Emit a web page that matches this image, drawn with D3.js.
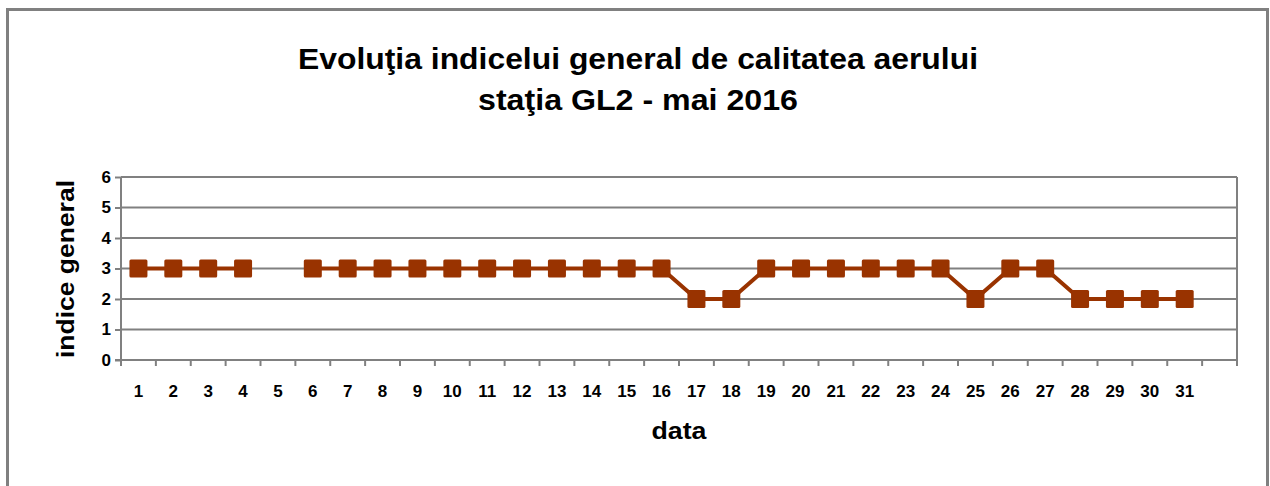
<!DOCTYPE html>
<html>
<head>
<meta charset="utf-8">
<script src="https://cdn.jsdelivr.net/npm/d3@7"></script>
<style>
  body { margin: 0; background: #fff; }
  svg { display: block; font-family: "Liberation Sans", Arial, sans-serif; }
</style>
</head>
<body>
<svg id="chart" width="1270" height="486"></svg>
<script>
// days of May 2016 (one empty slot at the end, as in the original)
const days = ["1","2","3","4","5","6","7","8","9","10","11","12","13","14","15","16",
  "17","18","19","20","21","22","23","24","25","26","27","28","29","30","31",""];
// general index per day, null = no data
const indexValues = [3,3,3,3,null,3,3,3,3,3,3,3,3,3,3,3,
  2,2,3,3,3,3,3,3,2,3,3,2,2,2,2];
const yTicks = [0,1,2,3,4,5,6];

const svg = d3.select("#chart");
const margin = {left: 121, top: 177, right: 1237, bottom: 360};

// outer frame
svg.append("rect")
  .attr("x", 7.5).attr("y", 9.5)
  .attr("width", 1260).attr("height", 500)
  .attr("fill", "none").attr("stroke", "#808080").attr("stroke-width", 3);

// title (text in the original is rendered wider, so stretch to fit)
svg.append("text")
  .attr("x", 638).attr("y", 69)
  .attr("text-anchor", "middle")
  .attr("font-size", 29).attr("font-weight", "bold")
  .attr("textLength", 680).attr("lengthAdjust", "spacingAndGlyphs")
  .text("Evoluţia indicelui general de calitatea aerului");
svg.append("text")
  .attr("x", 638).attr("y", 110)
  .attr("text-anchor", "middle")
  .attr("font-size", 29).attr("font-weight", "bold")
  .attr("textLength", 320).attr("lengthAdjust", "spacingAndGlyphs")
  .text("staţia GL2 - mai 2016");

const x = d3.scaleBand()
  .domain(days.map((d, i) => i))
  .range([margin.left, margin.right]);

const y = d3.scaleLinear()
  .domain([0, 6])
  .range([margin.bottom, margin.top]);

// gridlines
svg.append("g")
  .selectAll("line")
  .data(yTicks.slice(1))
  .enter()
  .append("line")
  .attr("x1", margin.left).attr("x2", margin.right)
  .attr("y1", d => y(d)).attr("y2", d => y(d))
  .attr("stroke", "#808080").attr("stroke-width", 2);

// right border of plot
svg.append("line")
  .attr("x1", margin.right).attr("x2", margin.right)
  .attr("y1", margin.top).attr("y2", margin.bottom)
  .attr("stroke", "#808080").attr("stroke-width", 2);

// y axis
const yAxis = svg.append("g")
  .attr("transform", "translate(" + margin.left + ",0)")
  .call(d3.axisLeft(y).tickValues(yTicks).tickSize(6).tickPadding(4).tickFormat(d3.format("d")));
yAxis.selectAll("line, path").attr("stroke", "#808080").attr("stroke-width", 2);
yAxis.select("path").attr("d", "M0," + margin.top + "V" + margin.bottom);
yAxis.selectAll("text")
  .attr("font-size", 17).attr("font-weight", "bold").attr("fill", "#000")
  .attr("font-family", "Liberation Sans, Arial, sans-serif");

// x axis: tick marks on band boundaries
const xAxisG = svg.append("g");
xAxisG.append("line")
  .attr("x1", margin.left - 6).attr("x2", margin.right)
  .attr("y1", margin.bottom).attr("y2", margin.bottom)
  .attr("stroke", "#808080").attr("stroke-width", 2);
xAxisG.selectAll("line.tick")
  .data(days.map((d, i) => i).concat([days.length]))
  .enter()
  .append("line")
  .attr("class", "tick")
  .attr("x1", d => d < days.length ? x(d) : margin.right)
  .attr("x2", d => d < days.length ? x(d) : margin.right)
  .attr("y1", margin.bottom).attr("y2", margin.bottom + 6)
  .attr("stroke", "#808080").attr("stroke-width", 2);
xAxisG.selectAll("text")
  .data(days)
  .enter()
  .append("text")
  .attr("x", (d, i) => x(i) + x.bandwidth() / 2)
  .attr("y", 397)
  .attr("text-anchor", "middle")
  .attr("font-size", 17).attr("font-weight", "bold")
  .text(d => d);

// axis titles
svg.append("text")
  .attr("transform", "translate(74,269) rotate(-90)")
  .attr("text-anchor", "middle")
  .attr("font-size", 23).attr("font-weight", "bold")
  .attr("textLength", 178).attr("lengthAdjust", "spacingAndGlyphs")
  .text("indice general");

svg.append("text")
  .attr("x", 679)
  .attr("y", 439)
  .attr("text-anchor", "middle")
  .attr("font-size", 23).attr("font-weight", "bold")
  .attr("textLength", 55).attr("lengthAdjust", "spacingAndGlyphs")
  .text("data");

// series
const points = indexValues.map((v, i) => ({i: i, v: v}));
const line = d3.line()
  .defined(d => d.v !== null)
  .x(d => x(d.i) + x.bandwidth() / 2)
  .y(d => y(d.v));

svg.append("path")
  .datum(points)
  .attr("d", line)
  .attr("fill", "none")
  .attr("stroke", "#993300")
  .attr("stroke-width", 4);

const m = 18;
svg.selectAll("rect.marker")
  .data(points.filter(d => d.v !== null))
  .enter()
  .append("rect")
  .attr("class", "marker")
  .attr("x", d => x(d.i) + x.bandwidth() / 2 - m / 2)
  .attr("y", d => y(d.v) - m / 2)
  .attr("width", m).attr("height", m)
  .attr("rx", 1.5)
  .attr("fill", "#993300");
</script>
</body>
</html>
